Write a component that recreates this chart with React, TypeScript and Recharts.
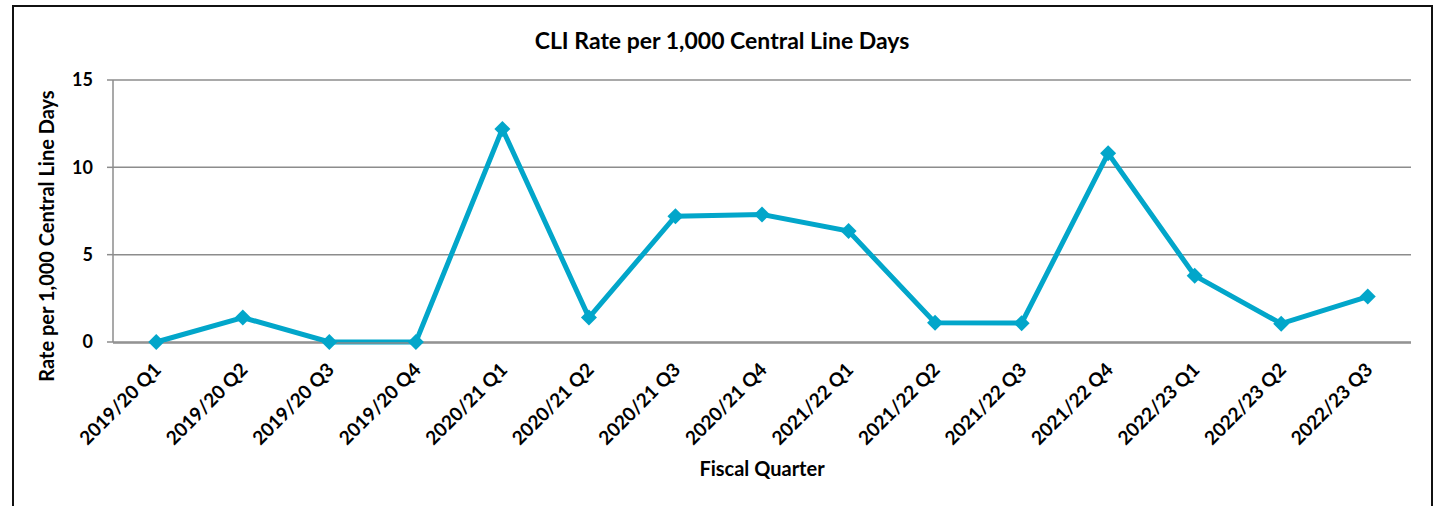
import { CartesianGrid, Line, LineChart, XAxis, YAxis } from 'recharts';

const quarters = [
  '2019/20 Q1',
  '2019/20 Q2',
  '2019/20 Q3',
  '2019/20 Q4',
  '2020/21 Q1',
  '2020/21 Q2',
  '2020/21 Q3',
  '2020/21 Q4',
  '2021/22 Q1',
  '2021/22 Q2',
  '2021/22 Q3',
  '2021/22 Q4',
  '2022/23 Q1',
  '2022/23 Q2',
  '2022/23 Q3'
];
const cliRate = [0, 1.4, 0, 0, 12.2, 1.4, 7.2, 7.3, 6.35, 1.1, 1.08, 10.8, 3.8, 1.05, 2.6];
const yTicks = [0, 5, 10, 15];
const boundaryTicks = quarters.map((_, i) => i).concat([quarters.length]);

const rows = quarters.map((q, i) => ({ q, rate: cliRate[i] }));

const FONT = 'Lato, "Open Sans", sans-serif';
const LINE = '#02a6ca';
const GRID = '#8c8c8c';

function Diamond({ cx, cy }: { cx?: number; cy?: number }) {
  if (cx == null || cy == null) return null;
  const r = 8;
  return (
    <polygon
      points={`${cx},${cy - r} ${cx + r},${cy} ${cx},${cy + r} ${cx - r},${cy}`}
      fill={LINE}
    />
  );
}

function QuarterTick({ x, y, payload }: { x?: number; y?: number; payload?: { value: string } }) {
  return (
    <g transform={`translate(${(x ?? 0) - 4},${(y ?? 0) + 11})`}>
      <text
        transform='rotate(-45)'
        textAnchor='end'
        dy='0.75em'
        fontSize={19}
        fontWeight={700}
        fontFamily={FONT}
        fill='#000'
      >
        {payload?.value}
      </text>
    </g>
  );
}

export default function App() {
  return (
    <div style={{ position: 'absolute', left: 0, top: 0, width: 1437, height: 506, overflow: 'hidden', background: '#fff' }}>
      <div
        style={{
          position: 'absolute',
          left: 12,
          top: 5,
          width: 1421,
          height: 540,
          border: '2px solid #111',
          boxSizing: 'border-box'
        }}
      />
      <div
        style={{
          position: 'absolute',
          left: 722,
          top: 40,
          transform: 'translate(-50%, -50%)',
          whiteSpace: 'nowrap',
          fontFamily: FONT,
          fontWeight: 700,
          fontSize: 23
        }}
      >
        CLI Rate per 1,000 Central Line Days
      </div>
      <div
        style={{
          position: 'absolute',
          left: 46,
          top: 236,
          transform: 'translate(-50%, -50%) rotate(-90deg)',
          whiteSpace: 'nowrap',
          fontFamily: FONT,
          fontWeight: 700,
          fontSize: 20
        }}
      >
        Rate per 1,000 Central Line Days
      </div>
      <div
        style={{
          position: 'absolute',
          left: 762,
          top: 468,
          transform: 'translate(-50%, -50%)',
          whiteSpace: 'nowrap',
          fontFamily: FONT,
          fontWeight: 700,
          fontSize: 20
        }}
      >
        Fiscal Quarter
      </div>
      <div style={{ position: 'absolute', left: 0, top: 0 }}>
        <LineChart width={1437} height={506} data={rows} margin={{ top: 80, right: 26, bottom: 157, left: 53 }}>
          <CartesianGrid horizontal vertical={false} stroke={GRID} strokeWidth={1.5} />
          <XAxis
            dataKey='q'
            scale='band'
            interval={0}
            axisLine={false}
            tickLine={false}
            tick={<QuarterTick />}
            height={1}
          />
          <XAxis
            xAxisId='marks'
            type='number'
            dataKey={() => 0}
            domain={[0, quarters.length]}
            ticks={boundaryTicks}
            tick={false}
            tickSize={6}
            height={6}
            stroke={GRID}
            strokeWidth={1.5}
            allowDataOverflow
          />
          <YAxis
            domain={[0, 15]}
            ticks={yTicks}
            width={60}
            tickSize={6}
            stroke={GRID}
            strokeWidth={1.5}
            tick={{ fontSize: 18, fontWeight: 700, fontFamily: FONT, fill: '#000', dx: -12 }}
          />
          <Line
            dataKey='rate'
            stroke={LINE}
            strokeWidth={5}
            dot={<Diamond />}
            activeDot={false}
            isAnimationActive={false}
          />
        </LineChart>
      </div>
    </div>
  );
}
